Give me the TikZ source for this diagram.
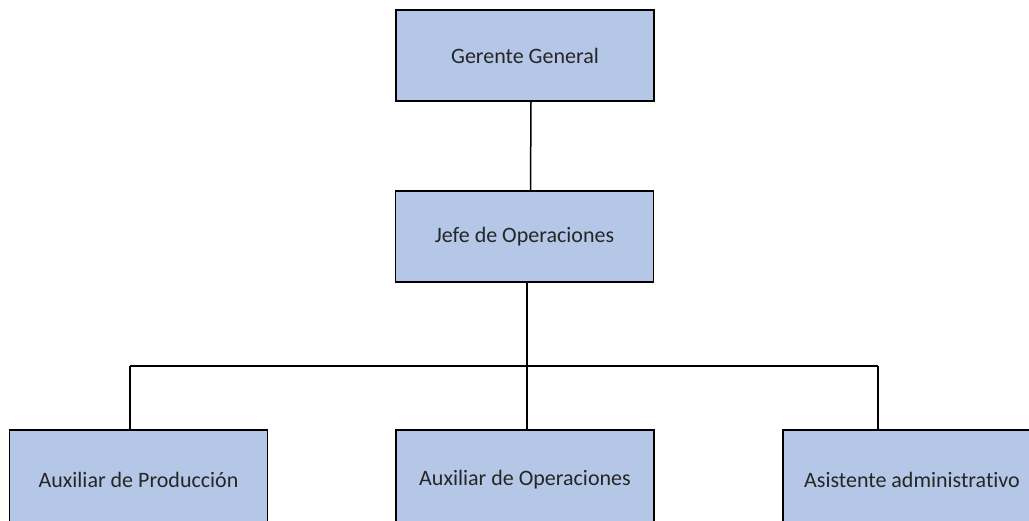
\documentclass[tikz,border=0pt]{standalone}
\usepackage{fontspec}
\setmainfont{Carlito}[Ligatures=CommonOff]
\usetikzlibrary{positioning}
\definecolor{cajaazul}{RGB}{180,199,231}
\tikzset{
  puesto/.style = {rectangle, draw=black, line width=1.6pt, fill=cajaazul,
    minimum width=258pt, minimum height=91pt, inner sep=0pt,
    text=black!85, font=\fontsize{22}{26}\selectfont},% caja de cargo
  puesto_b/.style = {puesto, minimum height=100pt},% caja cortada abajo
  enlace/.style = {draw=black, line width=1.5pt}% linea de mando
}

\begin{document}
\begin{tikzpicture}[x=1pt,y=-1pt]
  \useasboundingbox (0,0) rectangle (1029,520);
  % cargos
  \node [puesto] (gerente) at (525,55.5) {Gerente General};
  \node [puesto] (jefe) at (524.5,236.5) {Jefe de Operaciones};
  \node [puesto_b] (auxprod) at (138.5,480) {Auxiliar de Producción};
  \node [puesto_b] (auxoper) at (525,480) {Auxiliar de Operaciones};
  \node [puesto_b] (asist) at (912,480) {Asistente administrativo};
  % barra de reparto
  \coordinate (barraI) at (130,366);
  \coordinate (barraC) at (527,366);
  \coordinate (barraD) at (878,366);
  % lineas
  \draw [enlace] ([xshift=6pt]gerente.south) -- ([xshift=6pt]jefe.north);
  \draw [enlace] (jefe.south -| barraC) -- (barraC);
  \draw [enlace] (barraI) -- (barraD);
  \draw [enlace] (barraI) -- (barraI |- auxprod.north);
  \draw [enlace] (barraC) -- (barraC |- auxoper.north);
  \draw [enlace] (barraD) -- (barraD |- asist.north);
\end{tikzpicture}
\end{document}
